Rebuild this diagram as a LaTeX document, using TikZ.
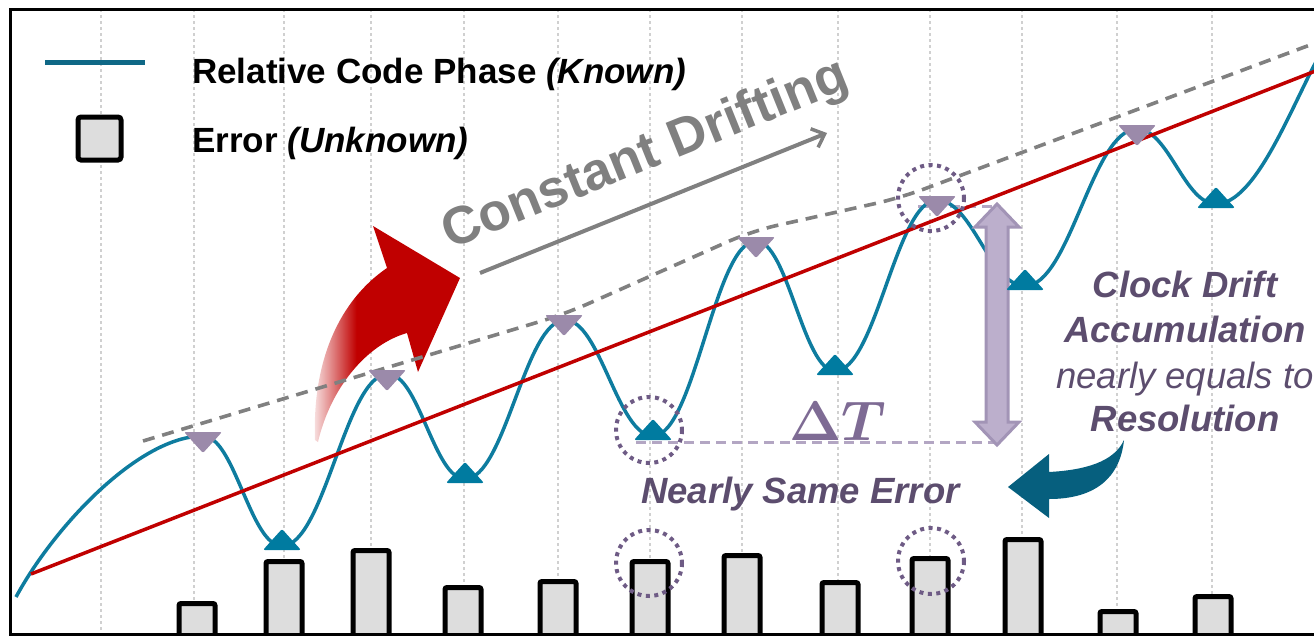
\documentclass[tikz,border=0pt]{standalone}
\usepackage{fontspec}
\setmainfont{Liberation Sans}
\usetikzlibrary{arrows.meta}
\definecolor{tealc}{HTML}{0E7C9F}
\definecolor{tealtri}{HTML}{007BA0}
\definecolor{teallg}{HTML}{0F6886}
\definecolor{tealdark}{HTML}{065F7E}
\definecolor{purtri}{HTML}{9B8AAA}
\definecolor{purtext}{HTML}{5C4D6E}
\definecolor{purdot}{HTML}{6E5B85}
\definecolor{purdelta}{HTML}{7E6B94}
\definecolor{lavfill}{HTML}{BCAFCC}
\definecolor{lavdraw}{HTML}{A294B6}
\definecolor{lavdash}{HTML}{B3A6C3}
\definecolor{redc}{HTML}{C00000}
\definecolor{barfill}{HTML}{DDDDDD}
\definecolor{gridc}{HTML}{D0D0D0}
\definecolor{grayc}{HTML}{808080}
\pgfdeclarehorizontalshading{redfade}{100bp}{color(0bp)=(white); color(25bp)=(white!92!redc); color(32bp)=(redc!50!white); color(40bp)=(redc); color(100bp)=(redc)}
\begin{document}
\begin{tikzpicture}[x=1pt,y=-1pt,
  gridline/.style={gridc, line width=2.5pt, dash pattern=on 3pt off 3pt},
  errbar/.style={draw=black, fill=barfill, line width=5pt, rounded corners=2pt},
  downtri/.style={fill=purtri, rounded corners=2pt},
  uptri/.style={fill=tealtri, rounded corners=2pt},
  dotcirc/.style={draw=purdot, line width=4pt, dash pattern=on 4pt off 4.5pt},
  phase/.style={tealc, line width=3.5pt},
  lbl/.style={inner sep=0pt, font=\fontsize{35}{40}\selectfont\bfseries},
  purlbl/.style={inner sep=0pt, text=purtext, font=\fontsize{36.5}{42}\selectfont\bfseries\itshape},
]
\useasboundingbox (0,0) rectangle (1314,635);
\begin{scope}
\clip (0,0) rectangle (1314,635);
% grid
\foreach \gx in {101,194,284,371,464,558,650,742,838,930,1022,1117,1212}
  \draw[gridline] (\gx,9) -- (\gx,635);
% bars
\foreach \bx/\by in {197/601,284/559,371/548,463/585,558/579,650/559,742/553,840/580,930/556,1023/537,1118/609,1213/594}
  \draw[errbar] (\bx-18,\by+2.5) rectangle (\bx+18,645);
% red curved arrow
\shade[shading=redfade] (315,440) .. controls (312,360) and (340,300) .. (387,268) -- (373,226) -- (460,278) -- (418,372) -- (407,333) .. controls (365,345) and (330,390) .. (318,442) -- cycle;
% gray dashed envelope
\draw[grayc, line width=3.6pt, dash pattern=on 12pt off 8pt, rounded corners=25pt]
  (143,441) -- (389,367) -- (565,314) -- (752,231) -- (900,198) -- (1318,42);
% constant drifting
\coordinate (cdA) at (480,273);
\coordinate (cdB) at (827,133);
\draw[grayc, line width=4pt, -{Straight Barb[length=11pt,width=20pt,line width=3.5pt]}] (cdA) -- (cdB);
\node[inner sep=0pt, anchor=base west, rotate=22, text=grayc, font=\fontsize{53}{60}\selectfont\bfseries] (cd) at (450,250) {Constant Drifting};
% lavender dashed guides
\draw[lavdash, line width=3pt, dash pattern=on 10pt off 6pt] (636,442) -- (997,442);
\draw[lavdash, line width=3pt, dash pattern=on 10pt off 6pt] (918,206) -- (997,206);
% phase curve
\draw[phase] (16,597) .. controls (55,525) and (140,436) .. (203,436)
  .. controls (234.6,436) and (250.4,546) .. (282,546)
  .. controls (324.4,546) and (345.6,374) .. (388,374)
  .. controls (418.8,374) and (434.2,479) .. (465,479)
  .. controls (505,479) and (525,320) .. (565,320)
  .. controls (600.2,320) and (617.8,436) .. (653,436)
  .. controls (694.2,436) and (714.8,241) .. (756,241)
  .. controls (787.6,241) and (803.4,371) .. (835,371)
  .. controls (875.8,371) and (896.2,200) .. (937,200)
  .. controls (972.2,200) and (989.8,286) .. (1025,286)
  .. controls (1069.8,286) and (1092.2,129) .. (1137,129)
  .. controls (1168.6,129) and (1184.4,204) .. (1216,204)
  .. controls (1255,204) and (1290,110) .. (1318,58);
% lavender double arrow
\draw[fill=lavfill, draw=lavdraw, line width=3pt, line join=miter]
  (997,204) -- (1019,227) -- (1008,227) -- (1008,422) -- (1019,422) -- (997,445)
  -- (975,422) -- (986,422) -- (986,227) -- (975,227) -- cycle;
% red trend line
\coordinate (rA) at (31,574);
\coordinate (rB) at (1318,70);
\draw[redc, line width=3.5pt] (rA) -- (rB);
% triangles
\foreach \tx/\ty in {203/432,387/370,564/315,756/237,937/196,1137/125}
  \fill[downtri] (\tx-19,\ty) -- (\tx+19,\ty) -- (\tx,\ty+21) -- cycle;
\foreach \tx/\ty in {282/550,465/483,653/440,835/375,1025/290,1216/208}
  \fill[uptri] (\tx-19,\ty) -- (\tx+19,\ty) -- (\tx,\ty-21) -- cycle;
% teal curved arrow
\fill[tealdark] (1124,440) .. controls (1120,478) and (1095,499) .. (1049,499) -- (1049,518) -- (1008,487) -- (1049,454) -- (1049,472) .. controls (1085,470) and (1114,462) .. (1124,440) -- cycle;
% dotted circles
\draw[dotcirc] (649,430) circle (33);
\draw[dotcirc] (931,198) circle (33);
\draw[dotcirc] (649,563) circle (33);
\draw[dotcirc] (931,561) circle (33);
% labels
\node[inner sep=0pt, anchor=base, text=purdelta, font=\fontsize{20}{24}\selectfont\boldmath] (dt) at (838,440) {\scalebox{2.7}{$\Delta T$}};
\node[purlbl, anchor=base] (cl1) at (1185,297) {Clock Drift};
\node[purlbl, anchor=base] (cl2) at (1185,342) {Accumulation};
\node[purlbl, anchor=base, font=\fontsize{36.5}{42}\selectfont\itshape] (cl3) at (1185,388) {nearly equals to};
\node[purlbl, anchor=base] (cl4) at (1185,431) {Resolution};
\node[purlbl, anchor=base west] (nse) at (641,503) {Nearly Same Error};
% legend
\coordinate (lgA) at (45,62);
\coordinate (lgB) at (145,62);
\draw[teallg, line width=5pt] (lgA) -- (lgB);
\draw[errbar, rounded corners=3pt] (78,117) rectangle (121,160);
\node[lbl, anchor=base west] (lg1) at (192,83) {Relative Code Phase \textit{(Known)}};
\node[lbl, anchor=base west] (lg2) at (192,152) {Error \textit{(Unknown)}};
% frame
\draw[black, line width=3pt] (10,9) rectangle (1330,634);
\end{scope}
\end{tikzpicture}
\end{document}
